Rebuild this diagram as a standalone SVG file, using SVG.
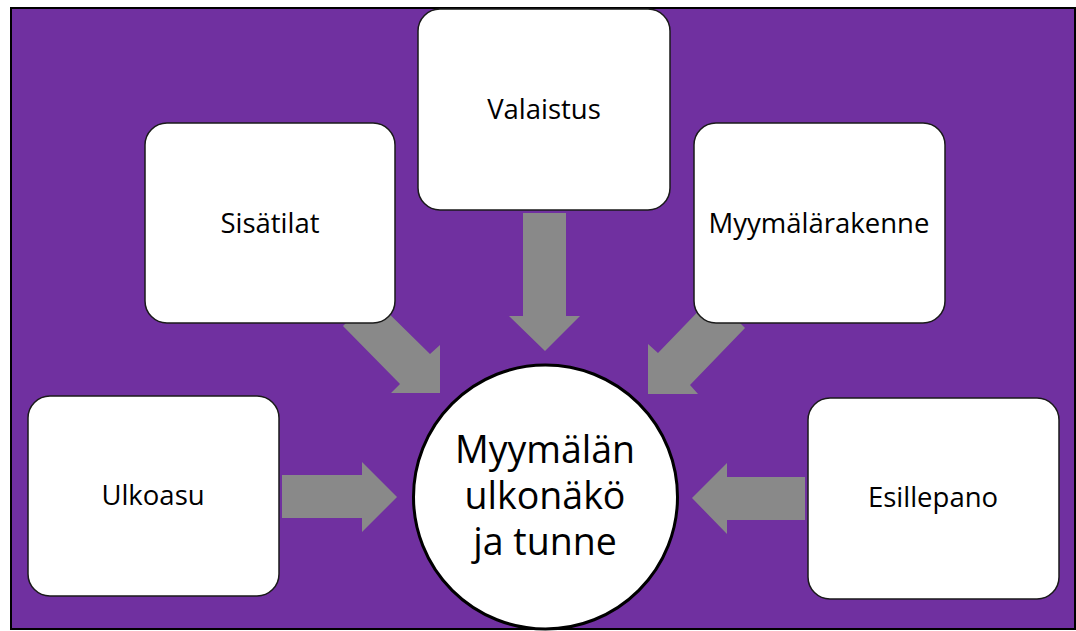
<svg xmlns="http://www.w3.org/2000/svg" width="1076" height="631" viewBox="0 0 1076 631">
  <style>
    .box { fill: #ffffff; stroke: #1a1a1a; stroke-width: 1.5; }
    .arrow { fill: #898989; stroke: none; }
    .label { font-family: "Open Sans", Lato, "Liberation Sans", sans-serif; font-size: 27.5px; fill: #000000; text-anchor: middle; }
    .hub { font-family: "Open Sans", Lato, "Liberation Sans", sans-serif; font-size: 37.5px; fill: #000000; text-anchor: middle; }
  </style>

  <!-- backdrop -->
  <rect x="0" y="0" width="1076" height="631" fill="#ffffff"/>
  <rect x="11" y="8" width="1064" height="621" fill="#7030A0" stroke="#000000" stroke-width="2"/>

  <!-- block arrows pointing at the hub -->
  <g id="connectors">
    <!-- from Valaistus (down) -->
    <polygon class="arrow" points="523,213 566,213 566,316 580,316 545,351 509,316 523,316"/>
    <!-- from Ulkoasu (right) -->
    <polygon class="arrow" points="282,475 362,475 362,462 397,497 362,532 362,518 282,518"/>
    <!-- from Esillepano (left) -->
    <polygon class="arrow" points="805,477 727,477 727,463 692,498 727,534 727,520 805,520"/>
    <!-- from Sisätilat (down-right) -->
    <polygon class="arrow" points="343,326 372,297 430,354 440,345 440,393 391,393 400,384"/>
    <!-- from Myymälärakenne (down-left) -->
    <polygon class="arrow" points="745,328 713,296 658,353 648,344 648,394 698,394 690,385"/>
  </g>

  <g id="node-valaistus">
    <rect class="box" x="418" y="9" width="252" height="201" rx="22"/>
    <text class="label" x="544" y="119">Valaistus</text>
  </g>

  <g id="node-sisatilat">
    <rect class="box" x="145" y="123" width="250" height="200" rx="22"/>
    <text class="label" x="270" y="233">Sisätilat</text>
  </g>

  <g id="node-myymalarakenne">
    <rect class="box" x="694" y="123" width="251" height="200" rx="22"/>
    <text class="label" x="819" y="233">Myymälärakenne</text>
  </g>

  <g id="node-ulkoasu">
    <rect class="box" x="28" y="396" width="251" height="200" rx="22"/>
    <text class="label" x="153" y="505">Ulkoasu</text>
  </g>

  <g id="node-esillepano">
    <rect class="box" x="808" y="398" width="251" height="201" rx="22"/>
    <text class="label" x="933" y="507">Esillepano</text>
  </g>

  <g id="node-hub">
    <circle cx="545.5" cy="497" r="132" fill="#ffffff" stroke="#000000" stroke-width="3"/>
    <text class="hub" x="545" y="463">Myymälän</text>
    <text class="hub" x="545" y="509">ulkonäkö</text>
    <text class="hub" x="545" y="555">ja tunne</text>
  </g>
</svg>
